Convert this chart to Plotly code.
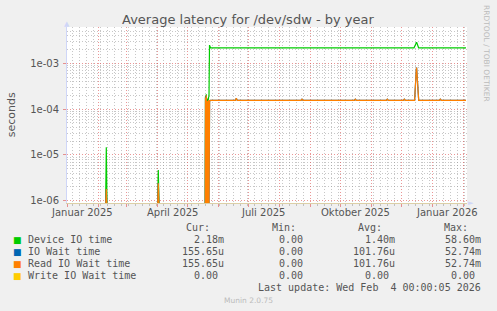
import pandas as pd
import plotly.graph_objects as go

# ---------------- data ----------------
START = pd.Timestamp("2025-01-01")
X_END_DAY = 400

# Device IO time (seconds) - day offsets from START
device_days = [0, 38.6, 39.3, 40.0, 90.6, 91.3, 92.0, 138.2, 138.5, 138.8, 139.3, 139.8,
               140.4, 140.9, 141.5, 142.0, 142.5, 143.5, 347.0, 349.6, 351.6, 399.0]
device_vals = [0, 0, 1.47e-5, 0, 0, 4.7e-6, 0, 0, 1.9e-4, 0, 2.1e-4, 0,
               1.7e-4, 0, 1.8e-4, 1.9e-4, 2.5e-3, 2.18e-3, 2.18e-3, 2.9e-3, 2.18e-3, 2.18e-3]

# Read IO Wait time
read_days = [0, 38.8, 39.3, 39.8, 90.7, 91.3, 91.9, 138.2, 138.5, 138.8, 139.3, 139.8,
             140.4, 140.9, 141.5, 142.0, 142.6, 143.5,
             168.3, 169.3, 170.3, 234.0, 235.0, 236.0, 287.3, 288.3, 289.3,
             319.3, 320.3, 321.3, 336.3, 337.3, 338.3,
             347.6, 349.3, 349.6, 351.7, 372.3, 373.3, 374.3, 399.0]
read_vals = [0, 0, 1.8e-6, 0, 0, 2.4e-6, 0, 0, 1.8e-4, 0, 2.0e-4, 0,
             1.5e-4, 0, 1.6e-4, 0, 1.5e-4, 1.55e-4,
             1.55e-4, 1.72e-4, 1.55e-4, 1.55e-4, 1.65e-4, 1.55e-4, 1.55e-4, 1.65e-4, 1.55e-4,
             1.55e-4, 1.65e-4, 1.55e-4, 1.55e-4, 1.65e-4, 1.55e-4,
             1.55e-4, 7.2e-4, 8.1e-4, 1.55e-4, 1.55e-4, 1.65e-4, 1.55e-4, 1.5565e-4]

# Write IO Wait time
write_days = [0, 399.0]
write_vals = [0, 0]

# IO Wait time = read + write (write is zero throughout)
iowait_days = read_days
iowait_vals = [v + 0.0 for v in read_vals]

series_names = ["Device IO time", "IO Wait time", "Read IO Wait time", "Write IO Wait time"]
series_colors = ["#00CC00", "#0066B3", "#FF8000", "#FFCC00"]
cur_vals = ["2.18m", "155.65u", "155.65u", "0.00"]
min_vals = ["0.00", "0.00", "0.00", "0.00"]
avg_vals = ["1.40m", "101.76u", "101.76u", "0.00"]
max_vals = ["58.60m", "52.74m", "52.74m", "0.00"]

y_tick_vals = [1e-6, 1e-5, 1e-4, 1e-3]
y_tick_text = ["1e-06", "1e-05", "1e-04", "1e-03"]
x_label_dates = ["2025-01-16", "2025-04-16", "2025-07-16", "2025-10-16", "2026-01-16"]
x_label_text = ["Januar 2025", "April 2025", "Juli 2025", "Oktober 2025", "Januar 2026"]

TITLE = "Average latency for /dev/sdw - by year"
LAST_UPDATE = "Last update: Wed Feb  4 00:00:05 2026"

# ---------------- layout helpers ----------------
W, H = 497, 311
L, R, T, B = 67, 30, 27, 108
PW, PH = W - L - R, H - T - B
Y_LO, Y_HI = -6.05, -2.207
FLOOR = 10 ** (Y_LO - 0.03)   # rrdtool draws zero values at the bottom of a log graph


def px(x):
    return (x - L) / PW


def py(y):
    return (H - B - y) / PH


def to_dates(days):
    return [START + pd.Timedelta(days=d) for d in days]


def clamp(vals):
    return [v if v > 0 else FLOOR for v in vals]


FONT = "DejaVu Sans"
MONO = "DejaVu Sans Mono"
TXT = "#555555"
GRID = "rgba(143,143,143,0.5)"
MGRID = "rgba(222,80,80,0.6)"
AXIS = "#CFD6F8"
BASE = "#DCCFA6"
DOT = "1px,2px"

fig = go.Figure()
all_days = [device_days, iowait_days, read_days, write_days]
all_vals = [device_vals, iowait_vals, read_vals, write_vals]
for name, col, d, v in zip(series_names, series_colors, all_days, all_vals):
    fig.add_trace(go.Scatter(x=to_dates(d), y=clamp(v), mode="lines", name=name,
                             line=dict(color=col, width=1.2), showlegend=False,
                             hoverinfo="skip"))

x_range = [START, START + pd.Timedelta(days=X_END_DAY)]
minor_y = [k * 10 ** e for e in range(-7, -1) for k in range(2, 10)]

fig.update_layout(
    width=W, height=H,
    margin=dict(l=L, r=R, t=T, b=B, pad=0),
    paper_bgcolor="#F0F0F0", plot_bgcolor="#FFFFFF",
    font=dict(family=FONT, size=10, color=TXT),
    xaxis=dict(type="date", range=x_range, showticklabels=False,
               tickmode="linear", tick0="2025-01-01", dtick="M1",
               showgrid=True, gridcolor=MGRID, griddash=DOT, gridwidth=1,
               ticks="outside", ticklen=3, tickcolor=MGRID,
               minor=dict(tickmode="linear", tick0="2024-12-30", dtick=7 * 86400000,
                          showgrid=True, gridcolor=GRID, griddash=DOT, gridwidth=1,
                          ticks="outside", ticklen=2, tickcolor=GRID),
               showline=True, linecolor=BASE, linewidth=1, zeroline=False,
               fixedrange=True),
    yaxis=dict(type="log", range=[Y_LO, Y_HI],
               tickmode="array", tickvals=y_tick_vals, ticktext=y_tick_text,
               tickfont=dict(family=FONT, size=10, color=TXT),
               showgrid=True, gridcolor=MGRID, griddash=DOT, gridwidth=1,
               ticks="outside", ticklen=3, tickcolor=MGRID, ticklabelstandoff=2,
               minor=dict(tickmode="array", tickvals=minor_y, showgrid=True,
                          gridcolor=GRID, griddash=DOT, gridwidth=1, ticks=""),
               showline=True, linecolor=AXIS, linewidth=1, zeroline=False,
               fixedrange=True),
)

ann = []
# x tick labels, placed through the date axis
for d, t in zip(x_label_dates, x_label_text):
    ann.append(dict(text=t, x=d, y=py(212.3), xref="x", yref="paper", showarrow=False,
                    xanchor="center", yanchor="middle",
                    font=dict(family=FONT, size=10, color=TXT)))
# title
ann.append(dict(text=TITLE, x=px(248.3), y=py(19), xref="paper", yref="paper",
                showarrow=False, xanchor="center", yanchor="middle",
                font=dict(family=FONT, size=13, color=TXT)))
# y axis title
ann.append(dict(text="seconds", x=px(11), y=py(114.3), xref="paper", yref="paper",
                showarrow=False, textangle=-90, xanchor="center", yanchor="middle",
                font=dict(family=FONT, size=11, color=TXT)))
# watermark
ann.append(dict(text="RRDTOOL / TOBI OETIKER", x=px(487), y=py(53), xref="paper", yref="paper",
                showarrow=False, textangle=90, xanchor="center", yanchor="middle",
                font=dict(family=FONT, size=7.5, color="#BBBBBB")))
# arrows on axes
ann.append(dict(text="▲", x=px(67), y=py(23.5), xref="paper", yref="paper", showarrow=False,
                xanchor="center", yanchor="middle", font=dict(family=FONT, size=7, color=AXIS)))
ann.append(dict(text="►", x=px(470.5), y=py(203), xref="paper", yref="paper", showarrow=False,
                xanchor="center", yanchor="middle", font=dict(family=FONT, size=7, color=AXIS)))

# legend table
headers = [("Cur:", 212), ("Min:", 298), ("Avg:", 384), ("Max:", 470)]
for h, xr in headers:
    ann.append(dict(text=h, x=px(xr), y=py(227.8), xref="paper", yref="paper", showarrow=False,
                    xanchor="right", yanchor="middle", font=dict(family=MONO, size=10, color=TXT)))
row_y = [239.5, 251.5, 263.5, 275.5]
col_end = [226, 305, 397, 482.7]
blank_unit = 6.0
for i, name in enumerate(series_names):
    yy = row_y[i]
    ann.append(dict(text="■", x=px(17), y=py(yy + 0.5), xref="paper", yref="paper", showarrow=False,
                    xanchor="center", yanchor="middle",
                    font=dict(family=FONT, size=9, color=series_colors[i])))
    ann.append(dict(text=name, x=px(26), y=py(yy), xref="paper", yref="paper", showarrow=False,
                    xanchor="left", yanchor="middle", font=dict(family=MONO, size=10, color=TXT)))
    for j, vals in enumerate([cur_vals, min_vals, avg_vals, max_vals]):
        v = vals[i]
        xr = col_end[j]
        if v[-1].isdigit() and j != 1:
            xr -= blank_unit
        ann.append(dict(text=v, x=px(xr), y=py(yy), xref="paper", yref="paper", showarrow=False,
                        xanchor="right", yanchor="middle", font=dict(family=MONO, size=10, color=TXT)))
ann.append(dict(text=LAST_UPDATE.replace(" ", "\u00a0"), x=px(482.7), y=py(287.8), xref="paper",
                yref="paper", showarrow=False, xanchor="right", yanchor="middle",
                font=dict(family=MONO, size=10, color=TXT)))
ann.append(dict(text="Munin 2.0.75", x=px(248), y=py(300), xref="paper", yref="paper",
                showarrow=False, xanchor="center", yanchor="middle",
                font=dict(family=FONT, size=7.5, color="#BBBBBB")))

fig.update_layout(annotations=ann)
fig.write_html("out.html", config={"displayModeBar": False})
